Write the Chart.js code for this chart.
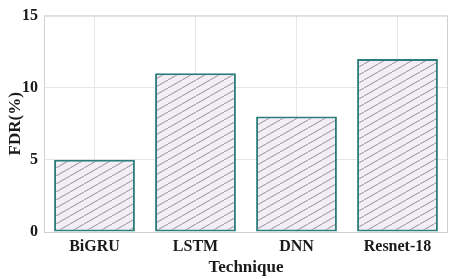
<!DOCTYPE html>
<html>
<head>
<meta charset="utf-8">
<script src="https://cdn.jsdelivr.net/npm/chart.js@4.4.1/dist/chart.umd.min.js"></script>
<style>
  html, body { margin: 0; padding: 0; background: #fff; }
  #wrap { width: 459px; height: 279px; }
</style>
</head>
<body>
<div id="wrap"><canvas id="chart" width="459" height="279"></canvas></div>
<script>
const techniques = ['BiGRU', 'LSTM', 'DNN', 'Resnet-18']
const fdrValues = [5, 11, 8, 12]
const yTicks = [0, 5, 10, 15]

// diagonal hatch like the matlab hatchfill
function hatchPattern() {
  const c = document.createElement('canvas')
  c.width = 14
  c.height = 8
  const g = c.getContext('2d')
  g.fillStyle = '#f3eef5'
  g.fillRect(0, 0, 14, 8)
  g.strokeStyle = '#aaa5ae'
  g.lineWidth = 1
  g.beginPath()
  g.moveTo(-14, 16); g.lineTo(14, 0)
  g.moveTo(0, 8); g.lineTo(28, -8)
  g.stroke()
  return g.createPattern(c, 'repeat')
}

const boxPlugin = {
  id: 'box',
  afterDraw(chart) {
    const { ctx, chartArea: a } = chart
    ctx.save()
    ctx.strokeStyle = '#d0d0d0'
    ctx.lineWidth = 1
    ctx.strokeRect(a.left + 0.5, a.top + 0.5, a.right - a.left - 1, a.bottom - a.top)
    ctx.restore()
  }
}

const font = { family: '"Liberation Serif", "Times New Roman", serif', weight: 'bold', size: 16 }

new Chart(document.getElementById('chart').getContext('2d'), {
  type: 'bar',
  data: {
    labels: techniques,
    datasets: [{
      label: 'FDR',
      data: fdrValues,
      backgroundColor: hatchPattern(),
      borderColor: '#2b7c7a',
      borderWidth: 2,
      borderSkipped: false,
      barPercentage: 0.8,
      categoryPercentage: 1.0
    }]
  },
  options: {
    responsive: false,
    animation: false,
    layout: { padding: { top: 7, right: 11, left: 0, bottom: 0 } },
    plugins: { legend: { display: false }, tooltip: { enabled: false } },
    scales: {
      x: {
        grid: { offset: false, color: '#e6e6e6', drawTicks: false },
        border: { display: false },
        ticks: { color: '#1a1a1a', font: font, padding: 5 },
        title: { display: true, text: 'Technique', color: '#1a1a1a', font: { ...font, size: 17 }, padding: { top: 0, bottom: 1 } },
        afterFit: axis => { axis.height = 47 }
      },
      y: {
        min: 0,
        max: 15,
        afterBuildTicks: axis => { axis.ticks = yTicks.map(v => ({ value: v })) },
        grid: { color: '#e6e6e6', drawTicks: false },
        border: { display: false },
        ticks: { color: '#1a1a1a', font: font, padding: 6 },
        title: { display: true, text: 'FDR(%)', color: '#1a1a1a', font: { ...font, size: 17 }, padding: { top: 5, bottom: 0 } },
        afterFit: axis => { axis.width = 44 }
      }
    }
  },
  plugins: [boxPlugin]
})
</script>
</body>
</html>
